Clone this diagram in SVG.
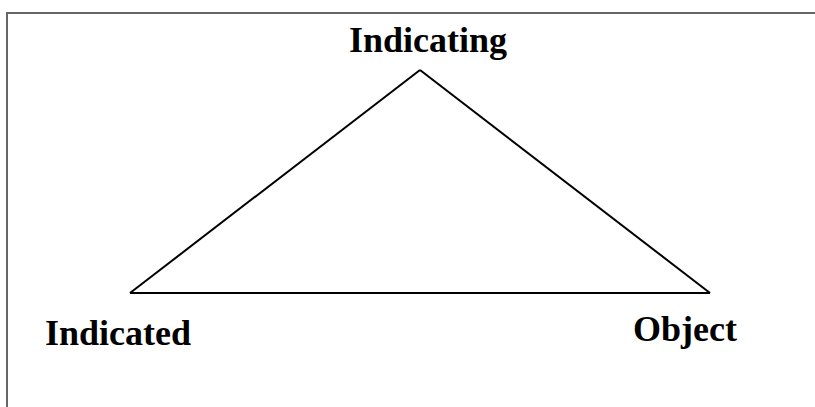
<svg xmlns="http://www.w3.org/2000/svg" width="815" height="407" viewBox="0 0 815 407">
<style>
.lbl{font-family:"Liberation Serif","Times New Roman",serif;font-weight:bold;font-size:36px;fill:#000}
.edge{stroke:#000;stroke-width:2;fill:none}
.frame{stroke:#666;stroke-width:2;fill:none}
</style>
<rect width="815" height="407" fill="#fff"/>
<path class="frame" d="M7,407 V13 H815"/>
<g id="connectors">
<line class="edge" x1="420" y1="70" x2="130" y2="293"/>
<line class="edge" x1="420" y1="70" x2="710" y2="293"/>
<line class="edge" x1="130" y1="293" x2="710" y2="293"/>
</g>
<g id="indicating"><text class="lbl" x="428" y="52" text-anchor="middle">Indicating</text></g>
<g id="indicated"><text class="lbl" x="45" y="345">Indicated</text></g>
<g id="object"><text class="lbl" x="633" y="341">Object</text></g>
</svg>
